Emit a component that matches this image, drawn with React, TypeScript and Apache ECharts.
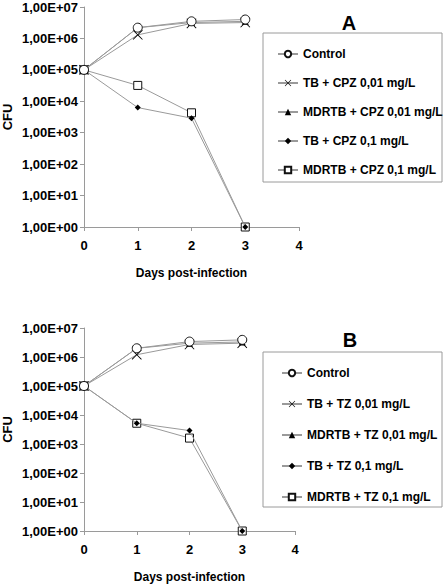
import React, { useEffect, useRef } from "react";
import * as echarts from "echarts";

const days = [0, 1, 2, 3];
const xTicks = [0, 1, 2, 3, 4];

const namesA = ["Control", "TB + CPZ 0,01 mg/L", "MDRTB + CPZ 0,01 mg/L", "TB + CPZ 0,1 mg/L", "MDRTB + CPZ 0,1 mg/L"];
const namesB = ["Control", "TB + TZ 0,01 mg/L", "MDRTB + TZ 0,01 mg/L", "TB + TZ 0,1 mg/L", "MDRTB + TZ 0,1 mg/L"];

const controlA = [1e5, 2.2e6, 3.5e6, 4.0e6];
const tbLowA = [1e5, 1.3e6, 3.0e6, 3.2e6];
const mdrLowA = [1e5, 2.2e6, 3.2e6, 3.5e6];
const tbHighA = [1e5, 6.3e3, 2.9e3, 1];
const mdrHighA = [1e5, 3.2e4, 4.3e3, 1];

const controlB = [1e5, 2.0e6, 3.4e6, 3.9e6];
const tbLowB = [1e5, 1.2e6, 2.7e6, 3.0e6];
const mdrLowB = [1e5, 2.0e6, 3.0e6, 3.3e6];
const tbHighB = [1e5, 5.2e3, 2.9e3, 1];
const mdrHighB = [1e5, 5.2e3, 1.6e3, 1];

const FONT = "'Liberation Sans', Arial, sans-serif";
const GRAY = "#9a9a9a";
const XPATH =
  "path://M0,0.6L0.6,0L5,4.4L9.4,0L10,0.6L5.6,5L10,9.4L9.4,10L5,5.6L0.6,10L0,9.4L4.4,5Z";

const symbols = [
  { symbol: "circle", size: 9, hollow: true },
  { symbol: XPATH, size: 10, hollow: false },
  { symbol: "triangle", size: 7, hollow: false },
  { symbol: "diamond", size: 6, hollow: false },
  { symbol: "rect", size: 8, hollow: true },
];

function fmt(v: number) {
  const e = Math.round(Math.log10(v));
  return "1,00E+" + (e < 10 ? "0" + e : String(e));
}

export default function App() {
  const ref = useRef<HTMLDivElement>(null);
  useEffect(() => {
    if (!ref.current) return;
    const chart = echarts.init(ref.current, undefined, { renderer: "svg" });
    const dataA = [controlA, tbLowA, mdrLowA, tbHighA, mdrHighA];
    const dataB = [controlB, tbLowB, mdrLowB, tbHighB, mdrHighB];

    const mkSeries = (names: string[], data: number[][], idx: number) =>
      names.map((n, i) => ({
        type: "line",
        name: n,
        xAxisIndex: idx,
        yAxisIndex: idx,
        data: days.map((d, j) => [d, data[i][j]]),
        symbol: symbols[i].symbol,
        symbolSize: symbols[i].size,
        showAllSymbol: true,
        itemStyle: symbols[i].hollow
          ? { color: "#fff", borderColor: "#111", borderWidth: 1 }
          : { color: "#000", borderWidth: 0 },
        lineStyle: { color: GRAY, width: 1 },
        z: 10 - i,
      }));

    const mkX = (idx: number) => ({
      type: "value",
      gridIndex: idx,
      min: 0,
      max: 4,
      interval: 1,
      name: "Days post-infection",
      nameLocation: "middle",
      nameGap: 40,
      nameTextStyle: { fontFamily: FONT, fontWeight: "bold", fontSize: 12, color: "#000" },
      axisLine: { lineStyle: { color: GRAY } },
      axisTick: { show: true, length: 4, lineStyle: { color: GRAY } },
      axisLabel: { fontFamily: FONT, fontWeight: "bold", fontSize: 13, color: "#000", margin: 12 },
      splitLine: { show: false },
    });
    const mkY = (idx: number) => ({
      type: "log",
      logBase: 10,
      gridIndex: idx,
      min: 1,
      max: 1e7,
      name: "CFU",
      nameLocation: "middle",
      nameRotate: 90,
      nameGap: 70,
      nameTextStyle: { fontFamily: FONT, fontWeight: "bold", fontSize: 13, color: "#000" },
      axisLine: { show: true, lineStyle: { color: GRAY } },
      axisTick: { show: true, length: 4, lineStyle: { color: GRAY } },
      axisLabel: { fontFamily: FONT, fontWeight: "bold", fontSize: 13, color: "#000", margin: 6, formatter: (v: number) => fmt(v) },
      splitLine: { show: false },
      minorTick: { show: false },
    });

    const mkLegend = (names: string[], left: number, top: number, gap: number) => ({
      orient: "vertical",
      left,
      top,
      data: names,
      itemWidth: 20,
      itemHeight: 8,
      itemGap: gap,
      selectedMode: false,
      textStyle: { fontFamily: FONT, fontWeight: "bold", fontSize: 12, color: "#000", lineHeight: 14 },
    });

    chart.setOption({
      animation: false,
      backgroundColor: "#fff",
      grid: [
        { left: 83, top: 7, width: 216, height: 220 },
        { left: 82, top: 328, width: 213, height: 208 },
      ],
      xAxis: [mkX(0), mkX(1)],
      yAxis: [mkY(0), mkY(1)],
      legend: [mkLegend(namesA, 272, 42, 15), mkLegend(namesB, 276, 361, 17)],
      series: [...mkSeries(namesA, dataA, 0), ...mkSeries(namesB, dataB, 1)],
      graphic: [
        { type: "rect", shape: { x: 263, y: 33, width: 179, height: 149 }, style: { fill: "none", stroke: GRAY, lineWidth: 1 } },
        { type: "rect", shape: { x: 263, y: 352, width: 179, height: 155 }, style: { fill: "none", stroke: GRAY, lineWidth: 1 } },
        { type: "text", x: 349, y: 23, style: { text: "A", font: "bold 20px " + FONT, fill: "#000", align: "center", verticalAlign: "middle" } },
        { type: "text", x: 350, y: 340, style: { text: "B", font: "bold 20px " + FONT, fill: "#000", align: "center", verticalAlign: "middle" } },
      ],
    });
    return () => chart.dispose();
  }, []);
  return <div ref={ref} style={{ position: "fixed", left: 0, top: 0, width: 444, height: 584 }} />;
}
